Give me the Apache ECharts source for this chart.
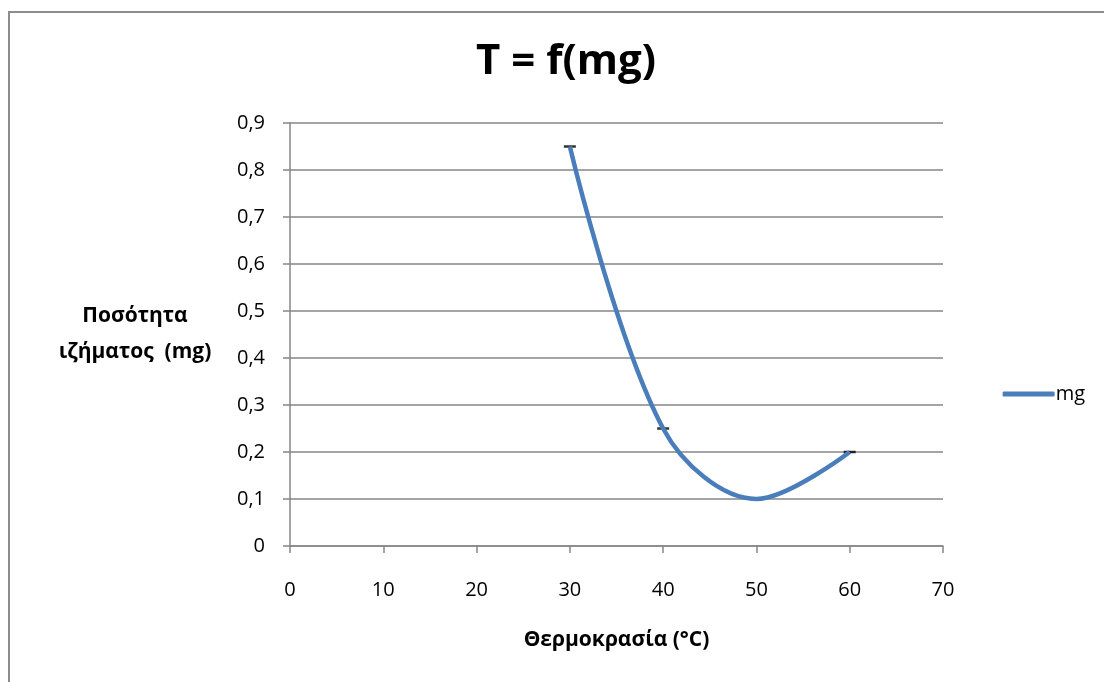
<!DOCTYPE html>
<html>
<head>
<meta charset="utf-8">
<script src="https://cdn.jsdelivr.net/npm/echarts@6/dist/echarts.min.js"></script>
<style>html,body{margin:0;padding:0;background:#fff;}#c{width:1104px;height:682px;}</style>
</head>
<body>
<div id="c"></div>
<script>
const temperatures = [30, 40, 50, 60];
const mgValues = [0.85, 0.25, 0.1, 0.2];
const seriesName = 'mg';
const titleText = 'T = f(mg)';
const xName = 'Θερμοκρασία (°C)';
const yName = 'Ποσότητα\nιζήματος  (mg)';

const font = 'Open Sans';
const points = temperatures.map((t, i) => [t, mgValues[i]]);
const chart = echarts.init(document.getElementById('c'), null, {renderer: 'canvas'});
chart.setOption({
  backgroundColor: '#fff',
  animation: false,
  graphic: [{
    type: 'polyline',
    shape: {points: [[9, 700], [9, 12], [1120, 12]]},
    style: {stroke: '#8c8c8c', lineWidth: 2, fill: null},
    silent: true
  }],
  title: {
    text: titleText,
    left: 561, top: 36, textAlign: 'center',
    textStyle: {fontFamily: font, fontSize: 42, fontWeight: 'bold', color: '#000'}
  },
  legend: {
    data: [{name: seriesName, icon: 'roundRect'}],
    right: 14, top: 379,
    itemWidth: 52, itemHeight: 5,
    itemGap: 4,
    textStyle: {fontFamily: font, fontSize: 20, color: '#000', padding: [0,0,0,-4]},
    itemStyle: {color: '#4a7ebb'}
  },
  grid: {left: 290, right: 161, top: 123, bottom: 136, containLabel: false},
  xAxis: {
    type: 'value', min: 0, max: 70, interval: 10,
    name: xName, nameLocation: 'middle', nameGap: 84,
    nameTextStyle: {fontFamily: font, fontSize: 21, fontWeight: 'bold', color: '#000'},
    axisLine: {onZero: false, lineStyle: {color: '#868686', width: 1.5}},
    axisTick: {show: true, length: 7, lineStyle: {color: '#868686', width: 1.5}},
    axisLabel: {fontFamily: font, fontSize: 20, color: '#000', margin: 34},
    splitLine: {show: false}
  },
  yAxis: {
    type: 'value', min: 0, max: 0.9, interval: 0.1,
    name: yName, nameLocation: 'middle', nameGap: 155, nameRotate: 0,
    nameTextStyle: {fontFamily: font, fontSize: 21, fontWeight: 'bold', color: '#000', align: 'center', lineHeight: 36, padding: [12, 0, 0, 0]},
    axisLine: {show: true, lineStyle: {color: '#868686', width: 1.5}},
    axisTick: {show: true, length: 7, lineStyle: {color: '#868686', width: 1.5}},
    axisLabel: {fontFamily: font, fontSize: 20, color: '#000', margin: 25,
      formatter: v => (Math.round(v * 10) / 10).toString().replace('.', ',')},
    splitLine: {show: true, lineStyle: {color: '#868686', width: 1.5}}
  },
  series: [{
    name: 'markers',
    type: 'scatter',
    data: points,
    symbol: 'rect',
    symbolSize: [12, 2.5],
    itemStyle: {color: '#000'},
    z: 1
  }, {
    name: seriesName,
    type: 'line',
    data: points,
    smooth: 0.35,
    lineStyle: {color: '#4a7ebb', width: 4.5},
    itemStyle: {color: '#4a7ebb'},
    showSymbol: false,
    z: 2
  }]
});
</script>
</body>
</html>
